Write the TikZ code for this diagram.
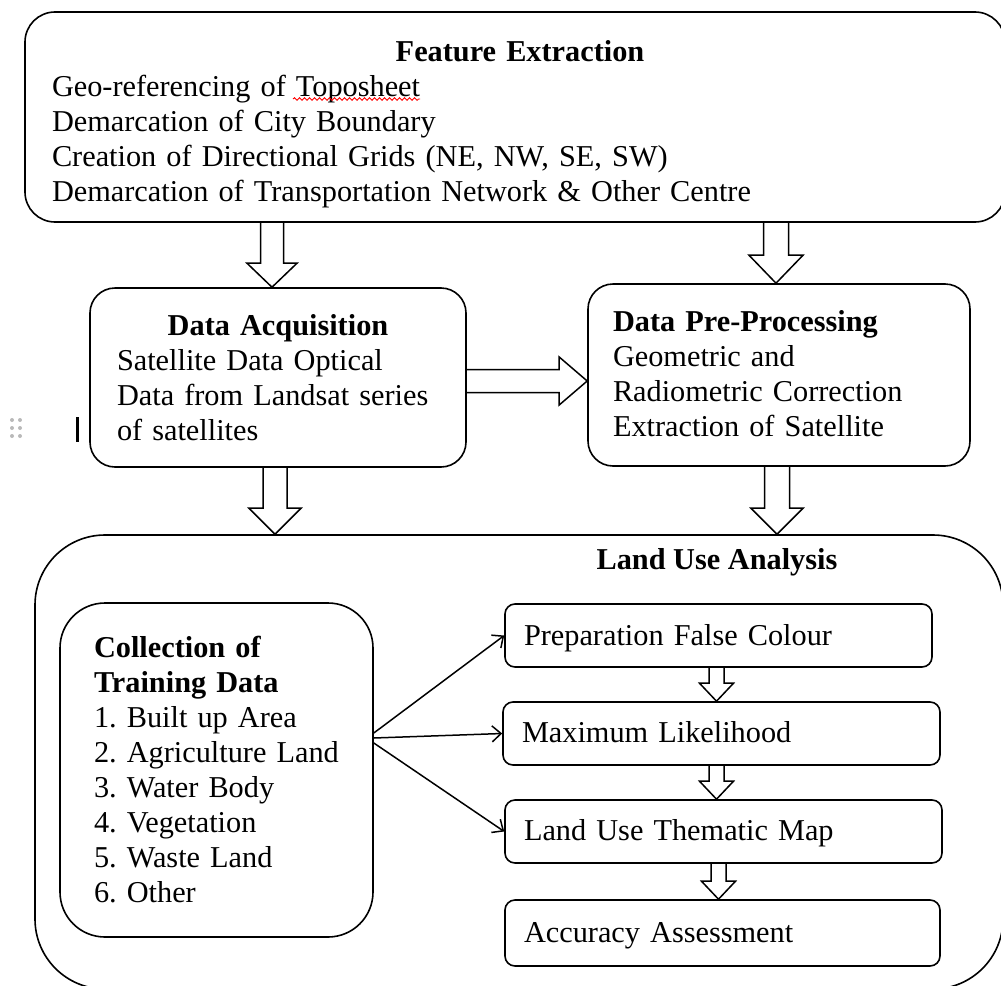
\documentclass[tikz,border=0pt]{standalone}
\usepackage{fontspec}
\setmainfont{Liberation Serif}
\usetikzlibrary{arrows.meta,calc,decorations.pathmorphing}
\newcommand\topst[1]{\rule{0pt}{#1pt}}
\newcommand\botst{\rule[-7pt]{0pt}{7pt}}
\newcommand\bdown[5]{%
  \draw[blk] let \p1=(#1), \p2=(#2) in
   (\x1-#3pt,\y1) -- (\x1-#3pt,\y2+#5pt) -- (\x1-#4pt,\y2+#5pt) -- (\x1,\y2)
   -- (\x1+#4pt,\y2+#5pt) -- (\x1+#3pt,\y2+#5pt) -- (\x1+#3pt,\y1);}
\newcommand\bright[5]{%
  \draw[blk] let \p1=(#1), \p2=(#2) in
   (\x1,\y1+#3pt) -- (\x2-#5pt,\y1+#3pt) -- (\x2-#5pt,\y1+#4pt) -- (\x2,\y1)
   -- (\x2-#5pt,\y1-#4pt) -- (\x2-#5pt,\y1-#3pt) -- (\x1,\y1-#3pt);}
\tikzset{
  box/.style={draw=black, line width=1.6pt, rectangle, inner ysep=0pt, align=left,
    font=\fontsize{30.3pt}{35pt}\selectfont\frenchspacing},
  txt/.style={inner sep=0pt, font=\fontsize{30.3pt}{35pt}\selectfont},
  blk/.style={draw=black, line width=1.5pt, line join=miter},
  thinarrow/.style={draw=black, line width=1.5pt, -{Straight Barb[length=9pt,width=16pt]}}
}
\begin{document}
\begin{tikzpicture}[x=1pt,y=-1pt]
\useasboundingbox (0,0) rectangle (1001,985);
\clip (0,0) rectangle (1001,985);

% Feature Extraction
\node[box, rounded corners=30pt, minimum width=980pt, minimum height=210pt,
      text width=926pt, inner xsep=27pt] (fe) at (515,117)
 {\centerline{\hspace*{10pt}\topst{35}\textbf{Feature Extraction}}\par
  Geo-referencing of Toposheet\\
  Demarcation of City Boundary\\
  Creation of Directional Grids (NE, NW, SE, SW)\\
  Demarcation of Transportation Network \& Other Centre\botst};

% Data Acquisition
\node[box, rounded corners=25pt, minimum width=376pt, minimum height=179pt,
      text width=322pt, inner xsep=27pt] (da) at (278,377.5)
 {\centerline{\topst{27}\textbf{Data Acquisition}}\par
  Satellite Data Optical\\
  \mbox{Data from Landsat series}\\
  of satellites\botst};

% Data Pre-Processing
\node[box, rounded corners=25pt, minimum width=382pt, minimum height=182pt,
      text width=332pt, inner xsep=25pt] (dp) at (779,375)
 {\topst{24}\textbf{Data Pre-Processing}\\
  Geometric and\\
  Radiometric Correction\\
  Extraction of Satellite\botst};

% Land Use Analysis
\node[box, rounded corners=70pt, minimum width=968pt, minimum height=454pt] (lua) at (519,762) {};
\node[txt, anchor=base] (luat) at (717,569) {\textbf{Land Use Analysis}};

% Collection of Training Data
\node[box, rounded corners=45pt, minimum width=313pt, minimum height=334pt,
      text width=245pt, inner xsep=34pt] (ctd) at (216.5,770)
 {\topst{26}\textbf{Collection of}\\
  \textbf{Training Data}\\
  1. Built up Area\\
  \mbox{2. Agriculture Land}\\
  3. Water Body\\
  4. Vegetation\\
  5. Waste Land\\
  6. Other\botst};

% right column
\node[box, rounded corners=10pt, minimum width=427pt, minimum height=63pt,
      text width=389pt, inner xsep=19pt] (pfc) at (718.5,635.5)
 {\topst{26}Preparation False Colour\botst};
\node[box, rounded corners=10pt, minimum width=437pt, minimum height=63pt,
      text width=399pt, inner xsep=19pt] (ml) at (721.5,733.5)
 {\topst{24}Maximum Likelihood\botst};
\node[box, rounded corners=10pt, minimum width=437pt, minimum height=63pt,
      text width=399pt, inner xsep=19pt] (lum) at (723.5,831.5)
 {\topst{24}Land Use Thematic Map\botst};
\node[box, rounded corners=10pt, minimum width=435pt, minimum height=66pt,
      text width=397pt, inner xsep=19pt] (acc) at (722.5,933)
 {\topst{25}Accuracy Assessment\botst};

% block arrows
\bdown{$(da.north |- fe.south)+(-6,0)$}{da.north}{11.5}{25}{24}
\bdown{$(dp.north |- fe.south)+(-3,0)$}{dp.north}{12.5}{27}{28}
\bright{$(da.east)+(0,3.5)$}{dp.west}{11.5}{24}{28}
\bdown{$(da.south)+(-3,0)$}{lua.north}{12}{26}{26}
\bdown{$(dp.south)+(-2,0)$}{lua.north}{12.5}{26}{26}
\bdown{$(pfc.south)+(-2,0)$}{ml.north}{7.5}{17}{18}
\bdown{$(ml.south)+(-5,0)$}{lum.north}{7.5}{17}{18}
\bdown{$(lum.south)+(-5,0)$}{acc.north}{7.5}{17}{18}

% thin arrows
\coordinate (o1) at ($(ctd.east)+(0,-37)$);
\coordinate (o2) at ($(ctd.east)+(0,-32)$);
\coordinate (o3) at ($(ctd.east)+(0,-27)$);
\draw[thinarrow] (o1) -- (pfc.west);
\draw[thinarrow] (o2) -- (ml.west);
\draw[thinarrow] (o3) -- (lum.west);

% spell-check underline
\draw[red, line width=0.9pt, decorate, decoration={snake, amplitude=1.3pt, segment length=5pt}]
  (293,99) -- (420,99);

% editor artefacts
\foreach \xx in {12,20} \foreach \yy in {420,428,436} \fill[gray!55] (\xx,\yy) circle (2);
\fill[black] (76,417) rectangle (79,442);
\end{tikzpicture}
\end{document}
